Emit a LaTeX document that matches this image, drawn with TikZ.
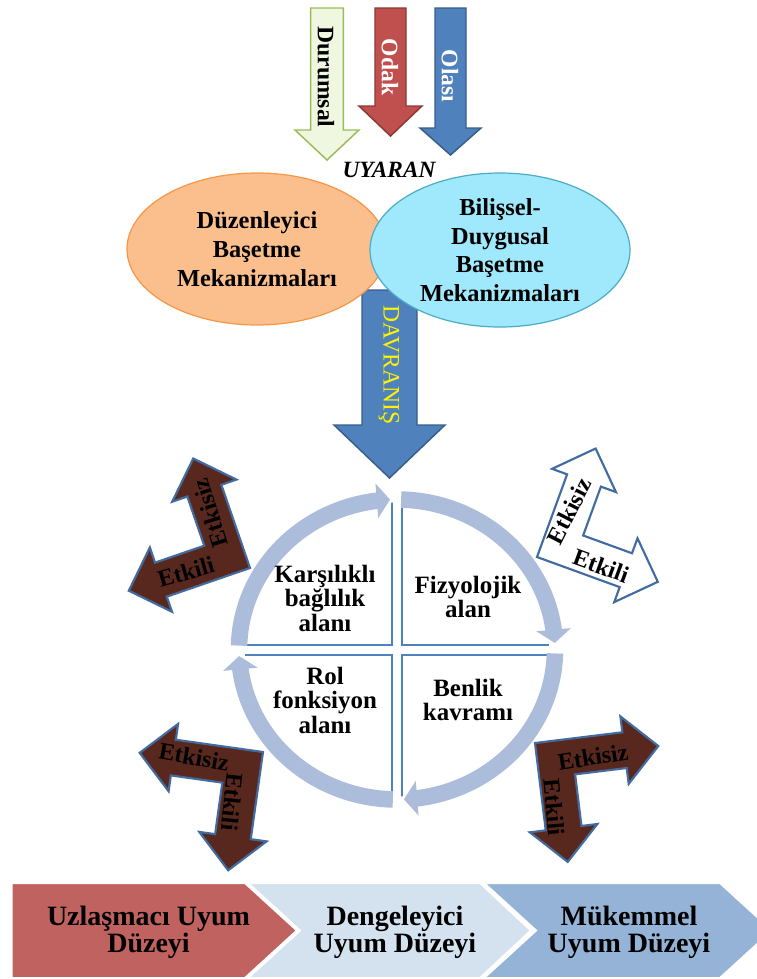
\documentclass[tikz,border=0pt]{standalone}
\usepackage{fontspec}
\setmainfont{Liberation Serif}
\usetikzlibrary{arrows.meta,bending,shapes.geometric}
\definecolor{durumsalfill}{RGB}{240,247,225}
\definecolor{durumsalline}{RGB}{155,187,89}
\definecolor{odakfill}{RGB}{192,80,77}
\definecolor{odakline}{RGB}{140,56,54}
\definecolor{olasifill}{RGB}{79,129,189}
\definecolor{olasiline}{RGB}{56,93,138}
\definecolor{duzfill}{RGB}{251,191,142}
\definecolor{duzline}{RGB}{247,150,70}
\definecolor{bilfill}{RGB}{160,232,251}
\definecolor{billine}{RGB}{75,172,198}
\definecolor{bandcol}{RGB}{172,189,220}
\definecolor{quadline}{RGB}{79,129,189}
\definecolor{etkfill}{RGB}{88,40,30}
\definecolor{etkline}{RGB}{66,108,160}
\definecolor{uzlfill}{RGB}{192,98,95}
\definecolor{denfill}{RGB}{212,226,240}
\definecolor{mukfill}{RGB}{149,179,215}
\begin{document}
\begin{tikzpicture}[x=0.75pt, y=0.75pt, yscale=-1, inner sep=0pt, outer sep=0pt,
  blockarrow/.style={line width=1.1pt, line join=miter},
  vtext/.style={font=\fontsize{17.7}{20}\selectfont\bfseries, rotate=-90},
  blob/.style={ellipse, line width=0.9pt, align=center, font=\fontsize{18.3}{21.5}\selectfont\bfseries},
  quad/.style={draw=quadline, fill=white, line width=1.5pt},
  quadtext/.style={font=\fontsize{18.7}{18.4}\selectfont\bfseries, align=center},
  band/.style={draw=bandcol, line width=12.4pt, -{Triangle[length=10pt, width=25.5pt]}},
  bent/.style={draw=etkline, line width=1.6pt, line join=miter},
  benttext/.style={font=\fontsize{18}{20}\selectfont\bfseries},
  level/.style={draw=white, line width=1.5pt},
  leveltext/.style={font=\fontsize{21}{20.3}\selectfont\bfseries, align=center}]
\useasboundingbox (0,0) rectangle (757,979);

\path[blockarrow, fill=olasifill, draw=olasiline] (362,290) -- (417,290) -- (417,425) -- (445,425) -- (389.5,478) -- (334,425) -- (362,425) -- cycle;
\node[blob, draw=duzline, fill=duzfill, minimum width=195pt, minimum height=114pt] (duzen) at (257,249) {Düzenleyici\\Başetme\\Mekanizmaları};
\node[blob, draw=billine, fill=bilfill, minimum width=195pt, minimum height=115.5pt] (bilis) at (500,250) {Bilişsel-\\Duygusal\\Başetme\\Mekanizmaları};
\node[vtext, text=yellow, font=\fontsize{17.7}{20}\selectfont] (davranis) at (389,365) {DAVRANIŞ};

\path[blockarrow, fill=durumsalfill, draw=durumsalline] (310.7,8) -- (343.3,8) -- (343.3,130) -- (359,130) -- (327,160) -- (295,130) -- (310.7,130) -- cycle;
\path[blockarrow, fill=odakfill, draw=odakline] (375,8) -- (406,8) -- (406,106) -- (422,106) -- (390.5,136) -- (359,106) -- (375,106) -- cycle;
\path[blockarrow, fill=olasifill, draw=olasiline] (435,8) -- (466,8) -- (466,128) -- (481,128) -- (450.5,155) -- (420,128) -- (435,128) -- cycle;
\node[vtext] (durumsal) at (326,77) {Durumsal};
\node[vtext, text=white] (odak) at (390,67) {Odak};
\node[vtext, text=white] (olasi) at (450,76) {Olası};
\node[font=\fontsize{17.5}{20}\selectfont\bfseries\itshape] (uyaran) at (389,170) {UYARAN};

\coordinate (cc) at (397,649.5);
\begin{scope}
  \clip (cc) ellipse[x radius=152, y radius=147];
  \foreach \sx/\sy in {-1/-1, 1/-1, -1/1, 1/1}
    \path[quad] ([shift={(5*\sx,5*\sy)}]cc) rectangle ([shift={(200*\sx,200*\sy)}]cc);
\end{scope}
\foreach \a in {180,270,0,90}
  \draw[band] ([shift={(\a+1.5:158 and 150)}]cc) arc[start angle=\a+1.5, end angle=\a+87.5, x radius=158, y radius=150];
\node[quadtext] (karsilikli) at (325,598) {Karşılıklı\\bağlılık\\alanı};
\node[quadtext] (fizyolojik) at (468,597) {Fizyolojik\\alan};
\node[quadtext] (rol) at (325,700) {Rol\\fonksiyon\\alanı};
\node[quadtext] (benlik) at (468,700) {Benlik\\kavramı};

\foreach \cx/\cy/\rot/\sx/\sy/\col in {250/568/-19/-1/1/etkfill, 537/557/20/1/1/white, 263/752/8/-1/-1/etkfill, 535/743/-7/1/-1/etkfill}
  \path[bent, fill=\col, shift={(\cx,\cy)}, rotate=\rot, xscale=\sx, yscale=\sy] (0,0) -- (88,0) -- (88,16) -- (122,-18) -- (88,-52) -- (88,-36) -- (36,-36) -- (36,-88) -- (52,-88) -- (18,-122) -- (-16,-88) -- (0,-88) -- cycle;
\foreach \i/\ax/\ay/\ar/\bx/\by/\br in {1/210/513/107/186/572/16, 2/569/511/63/601/566/-20, 3/194/757/-10/232/802/-96, 4/593/757/9/554/807/-85} {
  \node[benttext, rotate=\ar] (etkisiz\i) at (\ax,\ay) {Etkisiz};
  \node[benttext, rotate=\br] (etkili\i) at (\bx,\by) {Etkili};
}

\path[level, fill=uzlfill] (11.7,883) -- (245,883) -- (297,930.5) -- (245,978) -- (11.7,978) -- cycle;
\path[level, fill=denfill] (248,883) -- (480,883) -- (531,930.5) -- (480,978) -- (248,978) -- (300,930.5) -- cycle;
\path[level, fill=mukfill] (484,883) -- (720,883) -- (772,930.5) -- (720,978) -- (484,978) -- (536,930.5) -- cycle;
\node[leveltext] (uzlasmaci) at (148.5,932) {Uzlaşmacı Uyum\\Düzeyi};
\node[leveltext] (dengeleyici) at (395,932) {Dengeleyici\\Uyum Düzeyi};
\node[leveltext] (mukemmel) at (629,932) {Mükemmel\\Uyum Düzeyi};
\end{tikzpicture}
\end{document}
